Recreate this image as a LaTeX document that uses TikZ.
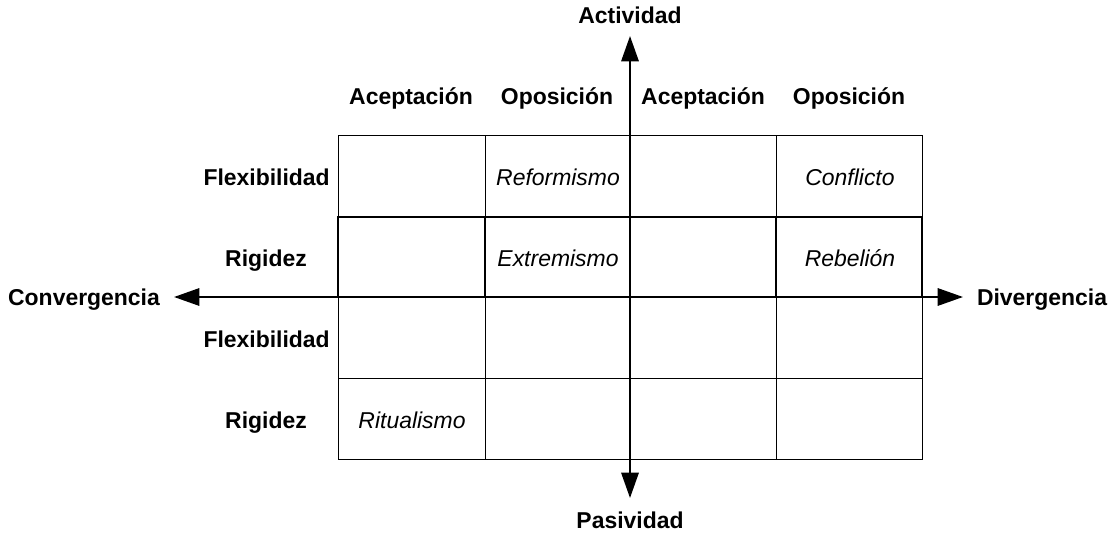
\documentclass[tikz,border=0pt]{standalone}
\usepackage{fontspec}
\setmainfont{Liberation Sans}
\usetikzlibrary{arrows.meta}
\begin{document}
\begin{tikzpicture}[x=0.75pt,y=-0.75pt,
  lbl/.style={font=\fontsize{17.2}{20}\selectfont\bfseries, inner sep=0pt, text height=12.4pt, text depth=0pt},
  cell/.style={font=\fontsize{17.2}{20}\selectfont\itshape, inner sep=0pt, text height=12.4pt, text depth=0pt},
  thin/.style={line width=0.75pt},
  thick/.style={line width=1.5pt},
  axis/.style={line width=1.6pt, -{Triangle[length=19pt,width=13pt]}}]
\useasboundingbox (0,0) rectangle (1112,535);
% grid
\draw[thin] (338,135) rectangle (922,459);
\draw[thin] (338,378) -- (922,378);
\draw[thin] (485,135) -- (485,459);
\draw[thin] (776,135) -- (776,459);
\draw[thick] (338,217) rectangle (922,297);
\draw[thick] (485,217) -- (485,297);
\draw[thick] (776,217) -- (776,297);
% axes
\coordinate (xl) at (338,297);
\coordinate (xr) at (922,297);
\coordinate (yt) at (630,135);
\coordinate (yb) at (630,459);
\coordinate (xlend) at (174,297);
\coordinate (xrend) at (963,297);
\coordinate (ytend) at (630,36);
\coordinate (ybend) at (630,498);
\draw[axis] (xr) -- (xlend);
\draw[axis] (xl) -- (xrend);
\draw[axis] (yb) -- (ytend);
\draw[axis] (yt) -- (ybend);
% axis labels
\node[lbl] (act) at (630,15) {Actividad};
\node[lbl] (pas) at (630,520) {Pasividad};
\node[lbl] (conv) at (84,297) {Convergencia};
\node[lbl] (div) at (1042,297) {Divergencia};
% column headers
\node[lbl] (h1) at (411,96) {Aceptación};
\node[lbl] (h2) at (557,96) {Oposición};
\node[lbl] (h3) at (703,96) {Aceptación};
\node[lbl] (h4) at (849,96) {Oposición};
% row labels
\node[lbl, anchor=east] (r1) at (330,177) {Flexibilidad};
\node[lbl, anchor=east] (r2) at (307,258) {Rigidez};
\node[lbl, anchor=east] (r3) at (330,339) {Flexibilidad};
\node[lbl, anchor=east] (r4) at (307,420) {Rigidez};
% cells
\node[cell] (c1) at (558,177) {Reformismo};
\node[cell] (c2) at (850,177) {Conflicto};
\node[cell] (c3) at (558,258) {Extremismo};
\node[cell] (c4) at (850,258) {Rebelión};
\node[cell] (c5) at (412,420) {Ritualismo};
\end{tikzpicture}
\end{document}
